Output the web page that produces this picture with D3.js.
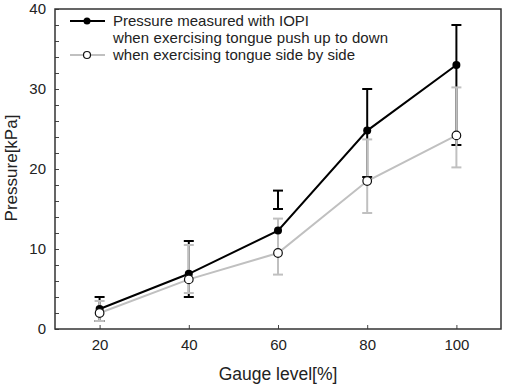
<!DOCTYPE html>
<html><head><meta charset="utf-8">
<script src="https://cdn.jsdelivr.net/npm/d3@7/dist/d3.min.js"></script>
<style>body{margin:0;background:#fff}svg{display:block}text{font-family:"Liberation Sans",Arial,sans-serif;fill:#222}</style>
</head><body><svg id="c" width="505" height="386"></svg>
<script>
const gauge = [20, 40, 60, 80, 100];
const pushMean = [2.5, 6.9, 12.3, 24.8, 33.0];
const pushUpper = [4.0, 11.0, 17.3, 30.0, 38.0];
const pushLower = [1.0, 4.0, 15.0, 19.0, 23.0];
const sideMean = [2.0, 6.2, 9.5, 18.5, 24.2];
const sideUpper = [3.5, 10.5, 13.8, 23.7, 30.2];
const sideLower = [1.0, 4.5, 6.8, 14.5, 20.2];
const xTicks = [20, 40, 60, 80, 100];
const yTicks = [0, 10, 20, 30, 40];
const legendLabels = ["Pressure measured with IOPI", "when exercising tongue push up to down", "when exercising tongue side by side"];

const svg = d3.select("#c");
const L = 55, R = 501, T = 9, B = 329;
const x = d3.scaleLinear().domain([10, 110]).range([L, R]);
const y = d3.scaleLinear().domain([0, 40]).range([B, T]);
const black = "#000", gray = "#c0c0c0";

const yAxis = svg.append("g").attr("transform", `translate(${L},0)`)
  .call(d3.axisLeft(y).tickValues(d3.range(0, 41, 2)).tickSize(-4).tickFormat(d => yTicks.includes(d) ? d : "").tickPadding(9));
const xAxis = svg.append("g").attr("transform", `translate(0,${B})`)
  .call(d3.axisBottom(x).tickValues(xTicks).tickSize(-4).tickPadding(10));
[yAxis, xAxis].forEach(g => {
  g.select(".domain").remove();
  g.selectAll(".tick line").attr("stroke", "#444").attr("stroke-width", 1);
  g.selectAll("text").style("font-size", "15px").attr("fill", "#222");
});
svg.append("rect").attr("x", L).attr("y", T).attr("width", R - L).attr("height", B - T)
  .attr("fill", "none").attr("stroke", "#333").attr("stroke-width", 1.5);

svg.append("text").attr("x", 278).attr("y", 380).attr("text-anchor", "middle").style("font-size", "17.5px").text("Gauge level[%]");
svg.append("text").attr("transform", "translate(17,168) rotate(-90)").attr("text-anchor", "middle").style("font-size", "17px").text("Pressure[kPa]");

function errorBars(mean, lo, hi, color) {
  const g = svg.append("g");
  gauge.forEach((gv, i) => {
    g.append("line").attr("x1", x(gv)).attr("x2", x(gv)).attr("y1", y(lo[i])).attr("y2", y(hi[i])).attr("stroke", color).attr("stroke-width", 2);
    [lo[i], hi[i]].forEach(v => g.append("line").attr("x1", x(gv) - 5).attr("x2", x(gv) + 5).attr("y1", y(v)).attr("y2", y(v)).attr("stroke", color).attr("stroke-width", 2));
  });
}
const line = d3.line().x((d, i) => x(gauge[i])).y(d => y(d));

errorBars(pushMean, pushLower, pushUpper, black);
errorBars(sideMean, sideLower, sideUpper, gray);
svg.append("path").attr("d", line(sideMean)).attr("fill", "none").attr("stroke", gray).attr("stroke-width", 2);
svg.append("path").attr("d", line(pushMean)).attr("fill", "none").attr("stroke", black).attr("stroke-width", 2);
svg.selectAll(".ps").data(pushMean).enter().append("circle").attr("cx", (d, i) => x(gauge[i])).attr("cy", d => y(d)).attr("r", 4).attr("fill", black);
svg.selectAll(".ss").data(sideMean).enter().append("circle").attr("cx", (d, i) => x(gauge[i])).attr("cy", d => y(d)).attr("r", 4.3).attr("fill", "#fff").attr("stroke", "#111").attr("stroke-width", 1.2);

const lg = svg.append("g");
lg.append("line").attr("x1", 70).attr("x2", 105).attr("y1", 21).attr("y2", 21).attr("stroke", black).attr("stroke-width", 2);
lg.append("circle").attr("cx", 87).attr("cy", 21).attr("r", 3.5).attr("fill", black);
lg.append("line").attr("x1", 70).attr("x2", 105).attr("y1", 55).attr("y2", 55).attr("stroke", gray).attr("stroke-width", 2);
lg.append("circle").attr("cx", 87).attr("cy", 55).attr("r", 3.5).attr("fill", "#fff").attr("stroke", "#111").attr("stroke-width", 1.2);
const legendWidths = [196, 275, 242];
[26, 43, 60].forEach((yy, i) => lg.append("text").attr("x", 113).attr("y", yy).style("font-size", "15px")
  .attr("textLength", legendWidths[i]).attr("lengthAdjust", "spacing").text(legendLabels[i]));
</script></body></html>
